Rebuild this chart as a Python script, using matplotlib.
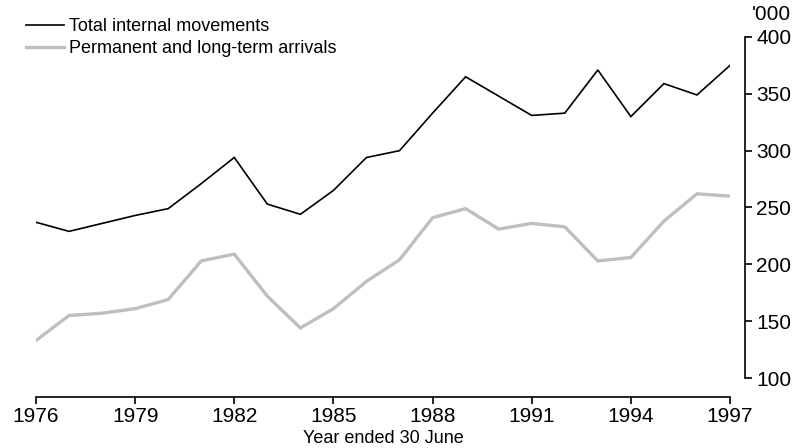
import matplotlib
matplotlib.use('Agg')
import matplotlib.pyplot as plt

plt.rcParams['font.family'] = ['Liberation Sans', 'DejaVu Sans']

# year ended 30 June
years = list(range(1976, 1998))
# '000 persons
internal = [237, 229, 236, 243, 249, 271, 294, 253, 244, 265, 294, 300,
            333, 365, 348, 331, 333, 371, 330, 359, 349, 375]
arrivals = [133, 155, 157, 161, 169, 203, 209, 172, 144, 161, 185, 204,
            241, 249, 231, 236, 233, 203, 206, 238, 262, 260]

tick_years = [1976, 1979, 1982, 1985, 1988, 1991, 1994, 1997]
y_ticks = [100, 150, 200, 250, 300, 350, 400]

fig = plt.figure(figsize=(7.96, 4.48), dpi=100)
ax = fig.add_axes([36 / 796, (448 - 378) / 448, (730 - 36) / 796, (378 - 37) / 448])

ax.plot(years, internal, color='black', linewidth=1.2,
        label='Total internal movements', solid_joinstyle='miter')
ax.plot(years, arrivals, color='#bfbfbf', linewidth=2.4,
        label='Permanent and long-term arrivals', solid_joinstyle='miter')

ax.set_xlim(1976, 1997)
ax.set_ylim(100, 400)

# axis styling: y axis on the right, x axis pushed down a little
ax.spines['left'].set_visible(False)
ax.spines['top'].set_visible(False)
ax.spines['right'].set_position(('outward', 11))
ax.spines['bottom'].set_position(('outward', 14))
ax.spines['right'].set_bounds(100, 400)
for s in ('right', 'bottom'):
    ax.spines[s].set_linewidth(1.2)

ax.yaxis.tick_right()
ax.set_yticks(y_ticks)
ax.set_xticks(tick_years)
ax.set_xticklabels([str(y) for y in tick_years])
ax.tick_params(axis='both', direction='out', length=5, width=1.2,
               labelsize=15, colors='black')
ax.tick_params(axis='x', pad=2)
ax.tick_params(axis='y', pad=3)

ax.set_xlabel('Year ended 30 June', fontsize=13, labelpad=3)
fig.text(791 / 796, 1 - 15 / 448, "'000", fontsize=15,
         ha='right', va='center')

fig.legend(loc='upper left', bbox_to_anchor=(26 / 796, 1 - 18 / 448),
           frameon=False, fontsize=13, handlelength=2.1, handletextpad=0.3,
           labelspacing=0.27, borderpad=0, borderaxespad=0)

fig.savefig('out.png', dpi=100)
